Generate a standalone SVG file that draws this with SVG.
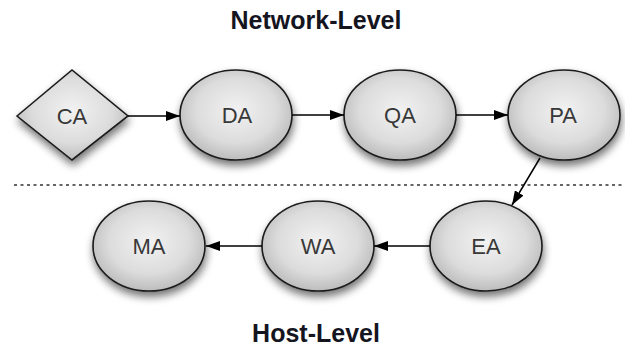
<svg xmlns="http://www.w3.org/2000/svg" width="625" height="361" viewBox="0 0 625 361">
<defs>
<radialGradient id="g" cx="50%" cy="45%" r="60%">
<stop offset="0" stop-color="#f2f2f2"/>
<stop offset="0.6" stop-color="#dcdcdc"/>
<stop offset="1" stop-color="#b4b4b4"/>
</radialGradient>
<filter id="sh" x="-30%" y="-30%" width="160%" height="170%">
<feGaussianBlur in="SourceAlpha" stdDeviation="4"/>
<feOffset dx="1" dy="5" result="b"/>
<feComponentTransfer><feFuncA type="linear" slope="0.55"/></feComponentTransfer>
<feMerge><feMergeNode/><feMergeNode in="SourceGraphic"/></feMerge>
</filter>
<marker id="ahb" viewBox="0 0 14 10" refX="14" refY="5" markerWidth="14" markerHeight="10" markerUnits="userSpaceOnUse" orient="auto">
<path d="M0,0 L14,5 L0,10 z" fill="#000"/>
</marker>
</defs>
<style>
.n{fill:url(#g);stroke:#1a1a1a;stroke-width:1.6;filter:url(#sh)}
.t{font-family:"Liberation Sans",Arial,sans-serif;font-size:22px;fill:#383838;text-anchor:middle}
.h{font-family:"Liberation Sans",Arial,sans-serif;font-size:25px;font-weight:bold;fill:#15151f;text-anchor:middle}
.c{stroke:#000;stroke-width:1.5;fill:none;marker-end:url(#ahb)}
</style>
<rect width="625" height="361" fill="#fff"/>
<text class="h" x="316" y="29">Network-Level</text>
<text class="h" x="316" y="342">Host-Level</text>
<line x1="14" y1="185" x2="622" y2="185" stroke="#333" stroke-width="1.5" stroke-dasharray="3,3.5"/>
<g id="CA"><polygon class="n" points="17,116 72,70 128,116 72,160"/><text class="t" x="72" y="124">CA</text></g>
<g id="DA"><ellipse class="n" cx="236" cy="115" rx="56" ry="45"/><text class="t" x="237" y="123">DA</text></g>
<g id="QA"><ellipse class="n" cx="400" cy="115" rx="56" ry="45"/><text class="t" x="400" y="123">QA</text></g>
<g id="PA"><ellipse class="n" cx="564" cy="115" rx="56" ry="45"/><text class="t" x="563" y="123">PA</text></g>
<g id="EA"><ellipse class="n" cx="486" cy="246" rx="56" ry="45"/><text class="t" x="486" y="254">EA</text></g>
<g id="WA"><ellipse class="n" cx="318" cy="246" rx="56" ry="45"/><text class="t" x="318" y="254">WA</text></g>
<g id="MA"><ellipse class="n" cx="149" cy="246" rx="56" ry="45"/><text class="t" x="149" y="254">MA</text></g>
<g id="connectors">
<line class="c" x1="128" y1="116" x2="180" y2="116"/>
<line class="c" x1="292" y1="115" x2="344" y2="115"/>
<line class="c" x1="456" y1="115" x2="508" y2="115"/>
<line class="c" x1="540" y1="158" x2="512" y2="205"/>
<line class="c" x1="430" y1="246" x2="374" y2="246"/>
<line class="c" x1="262" y1="246" x2="206" y2="246"/>
</g>
</svg>
